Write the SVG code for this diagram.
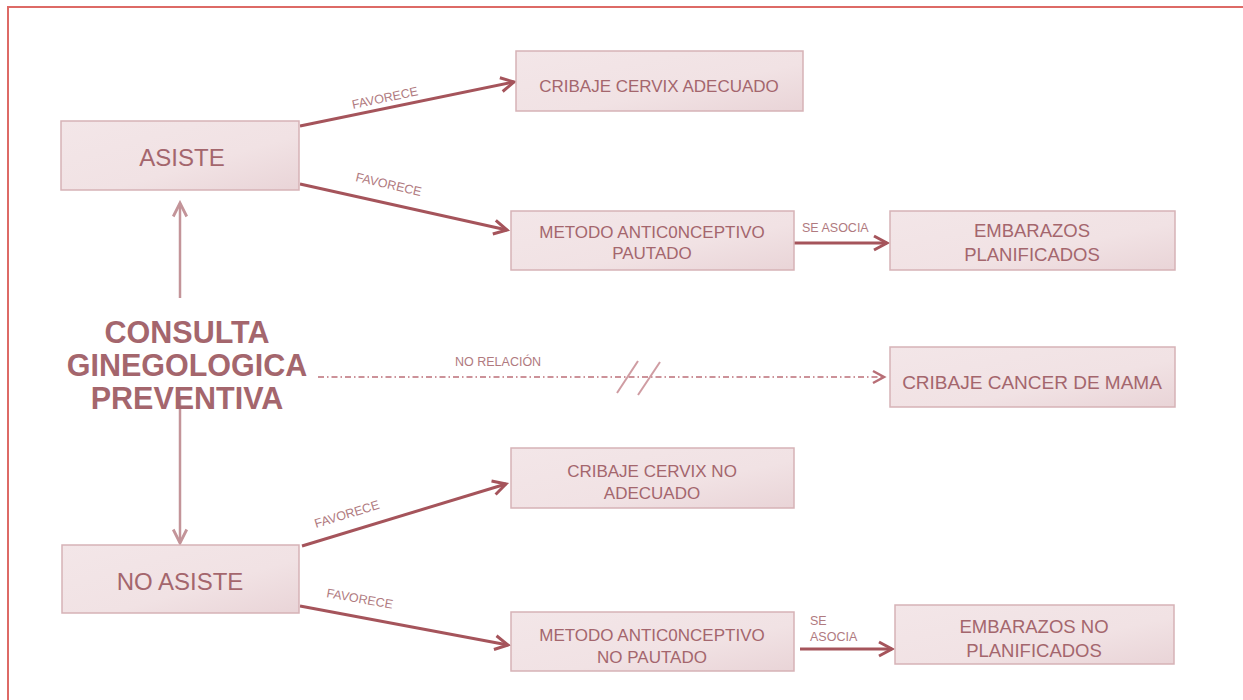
<svg xmlns="http://www.w3.org/2000/svg" width="1243" height="700" viewBox="0 0 1243 700">
<defs>
<linearGradient id="boxg" x1="0" y1="0" x2="1" y2="1">
<stop offset="0" stop-color="#f3e6e8"/>
<stop offset="0.6" stop-color="#f1e2e4"/>
<stop offset="1" stop-color="#e9d4d7"/>
</linearGradient>
<marker id="arr" markerUnits="userSpaceOnUse" markerWidth="20" markerHeight="20" refX="15" refY="8" orient="auto" viewBox="0 0 20 16">
<path d="M2,1 L15,8 L2,15" fill="none" stroke="#a5545b" stroke-width="3"/>
</marker>
<marker id="arrv" markerUnits="userSpaceOnUse" markerWidth="18" markerHeight="18" refX="13" refY="7" orient="auto" viewBox="0 0 16 14">
<path d="M1,1 L13,7 L1,13" fill="none" stroke="#c39499" stroke-width="2.5"/>
</marker>
<marker id="arrd" markerUnits="userSpaceOnUse" markerWidth="16" markerHeight="16" refX="12" refY="7" orient="auto" viewBox="0 0 16 14">
<path d="M1,1 L12,7 L1,13" fill="none" stroke="#b86e76" stroke-width="2.5"/>
</marker>
</defs>
<style>
.box{fill:url(#boxg);stroke:#d6b2b6;stroke-width:1.5}
.t{font-family:"Liberation Sans",Arial,sans-serif;fill:#a4666d;text-anchor:middle}
.lbl{font-family:"Liberation Sans",Arial,sans-serif;fill:#b07a80;font-size:12.5px}
.c{fill:none;stroke:#a5545b;stroke-width:3}
.v{fill:none;stroke:#c39499;stroke-width:2.5}
</style>
<rect x="8" y="7" width="1260" height="720" fill="#ffffff" stroke="#dd6a66" stroke-width="2"/>

<g id="connectors">
<line class="c" x1="300" y1="126" x2="514" y2="82" marker-end="url(#arr)"/>
<line class="c" x1="300" y1="184" x2="507" y2="230" marker-end="url(#arr)"/>
<line class="c" x1="794" y1="243" x2="887" y2="243" marker-end="url(#arr)"/>
<line class="c" x1="302" y1="546" x2="506" y2="484" marker-end="url(#arr)"/>
<line class="c" x1="300" y1="606" x2="508" y2="645" marker-end="url(#arr)"/>
<line class="c" x1="800" y1="649" x2="892" y2="649" marker-end="url(#arr)"/>
<line class="v" x1="180" y1="298" x2="180" y2="203" marker-end="url(#arrv)"/>
<line class="v" x1="180" y1="398" x2="180" y2="543" marker-end="url(#arrv)"/>
<line x1="318" y1="377" x2="884" y2="377" fill="none" stroke="#cc9299" stroke-width="2" stroke-dasharray="6 3 1.5 3" marker-end="url(#arrd)"/>
<line x1="617" y1="393" x2="638" y2="361" stroke="#cf9ca2" stroke-width="2"/>
<line x1="638" y1="395" x2="660" y2="362" stroke="#cf9ca2" stroke-width="2"/>
<text class="lbl" transform="translate(353,109) rotate(-12)">FAVORECE</text>
<text class="lbl" transform="translate(355,181) rotate(13)">FAVORECE</text>
<text class="lbl" x="802" y="232">SE ASOCIA</text>
<text class="lbl" x="455" y="366">NO RELACIÓN</text>
<text class="lbl" transform="translate(316,528) rotate(-17)">FAVORECE</text>
<text class="lbl" transform="translate(326,597) rotate(10)">FAVORECE</text>
<text class="lbl" x="810" y="625">SE</text>
<text class="lbl" x="810" y="641">ASOCIA</text>
</g>

<g id="consulta">
<text class="t" x="187" y="343" font-size="30.5" font-weight="bold">CONSULTA</text>
<text class="t" x="187" y="376" font-size="30.5" font-weight="bold">GINEGOLOGICA</text>
<text class="t" x="187" y="409" font-size="30.5" font-weight="bold">PREVENTIVA</text>
</g>

<g id="asiste">
<rect class="box" x="61" y="121" width="238" height="69"/>
<text class="t" x="182" y="166" font-size="24">ASISTE</text>
</g>
<g id="no-asiste">
<rect class="box" x="62" y="545" width="237" height="68"/>
<text class="t" x="180" y="590" font-size="24">NO ASISTE</text>
</g>
<g id="cribaje-adecuado">
<rect class="box" x="516" y="51" width="287" height="60"/>
<text class="t" x="659" y="92" font-size="17">CRIBAJE CERVIX ADECUADO</text>
</g>
<g id="metodo-pautado">
<rect class="box" x="511" y="211" width="283" height="59"/>
<text class="t" x="652" y="238" font-size="17">METODO ANTIC0NCEPTIVO</text>
<text class="t" x="652" y="259" font-size="17">PAUTADO</text>
</g>
<g id="embarazos-planificados">
<rect class="box" x="890" y="211" width="285" height="59"/>
<text class="t" x="1032" y="237" font-size="18.5">EMBARAZOS</text>
<text class="t" x="1032" y="261" font-size="18.5">PLANIFICADOS</text>
</g>
<g id="cribaje-mama">
<rect class="box" x="890" y="347" width="285" height="60"/>
<text class="t" x="1032" y="389" font-size="19">CRIBAJE CANCER DE MAMA</text>
</g>
<g id="cribaje-no-adecuado">
<rect class="box" x="511" y="448" width="283" height="60"/>
<text class="t" x="652" y="477" font-size="17">CRIBAJE CERVIX NO</text>
<text class="t" x="652" y="499" font-size="17">ADECUADO</text>
</g>
<g id="metodo-no-pautado">
<rect class="box" x="511" y="612" width="283" height="59"/>
<text class="t" x="652" y="641" font-size="17">METODO ANTIC0NCEPTIVO</text>
<text class="t" x="652" y="663" font-size="17">NO PAUTADO</text>
</g>
<g id="embarazos-no-planificados">
<rect class="box" x="895" y="605" width="279" height="59"/>
<text class="t" x="1034" y="633" font-size="18.5">EMBARAZOS NO</text>
<text class="t" x="1034" y="657" font-size="18.5">PLANIFICADOS</text>
</g>
</svg>
